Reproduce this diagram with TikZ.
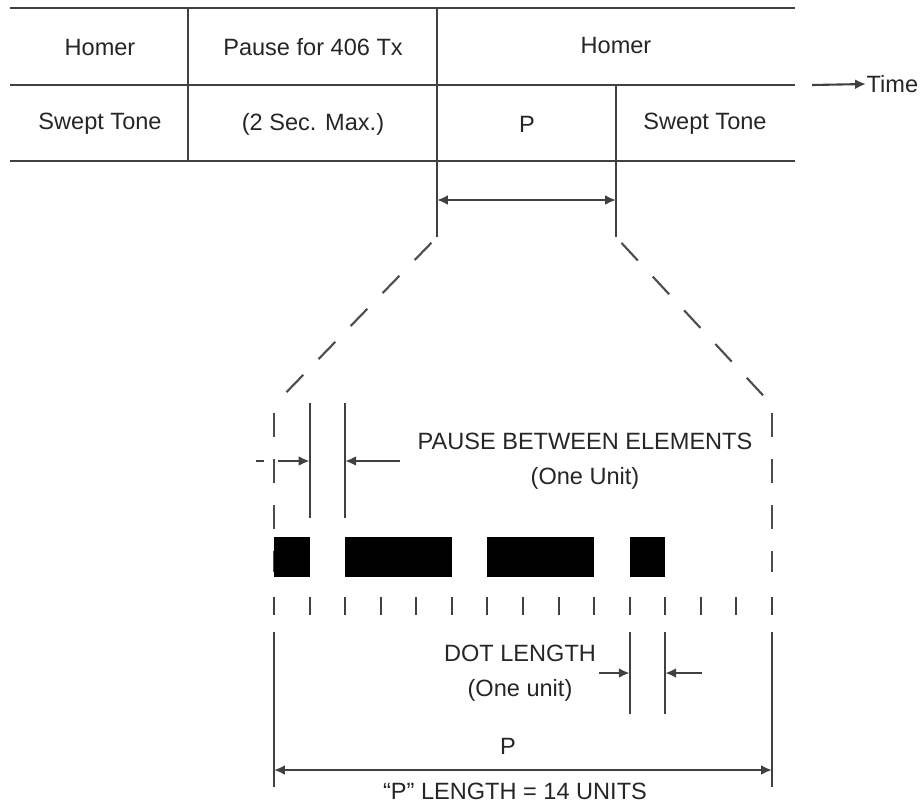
\documentclass[tikz,border=0pt]{standalone}
\usepackage{fontspec}
\setmainfont{Liberation Sans}
\usetikzlibrary{arrows.meta,calc}
\tikzset{
  lbl/.style={text=black!85,font=\fontsize{6.7}{9.8}\selectfont,inner sep=1pt},
  rule/.style={draw=black!75,line width=0.6pt},
  zoomline/.style={draw=black!70,line width=0.6pt,dash pattern=on 0.24cm off 0.22cm,dash phase=0.38cm},
  unitbar/.style={fill=black},
}
\begin{document}
\begin{tikzpicture}[x=0.01cm,y=-0.01cm,>={Latex[length=3.1pt,width=2.8pt]}]
  \useasboundingbox (0,0) rectangle (921,805);
  % table of the sequence
  \coordinate (tl) at (10,8);
  \coordinate (tr) at (795,8);
  \coordinate (ml) at (10,85);
  \coordinate (mr) at (795,85);
  \coordinate (bl) at (10,161);
  \coordinate (br) at (795,161);
  \draw[rule] (tl)--(tr) (ml)--(mr) (bl)--(br);
  \draw[rule] (188,8)--(188,161);
  \coordinate (pleft) at (437,237);
  \coordinate (pright) at (616,237);
  \draw[rule] (437,8)--(pleft);
  \draw[rule] (616,85)--(pright);
  \node[lbl] (homerA) at (100,47) {Homer};
  \node[lbl] (sweptA) at (100,124) {Swept Tone};
  \node[lbl] (pause) at (313,47) {Pause for 406 Tx};
  \node[lbl] (maxtwo) at (313,124) {(2 Sec. Max.)};
  \node[lbl] (homerB) at (616,45) {Homer};
  \node[lbl] (pcell) at (527,124) {P};
  \node[lbl] (sweptB) at (705,124) {Swept Tone};
  % time arrow
  \coordinate (tstart) at (812,85);
  \node[lbl,anchor=west,inner sep=0pt] (time) at (866,84) {Time};
  \draw[rule,->] (tstart)--(time.west);
  % span of P
  \draw[rule,<->] (437,200)--(616,200);
  % zoom lines
  \coordinate (zl) at (274,405);
  \coordinate (zr) at (772,405);
  \draw[zoomline] (pleft)--(zl);
  \draw[zoomline] (pright)--(zr);
  \draw[zoomline] (zl)--(274,572);
  \draw[zoomline] (zr)--(772,572);
  % code elements and unit ticks
  \def\u{35.5714}
  \foreach \a/\b in {0/1,2/5,6/9,10/11}
    \fill[unitbar] (274+\a*\u,537) rectangle (274+\b*\u,577);
  \foreach \i in {0,...,14}
    \draw[rule] (274+\i*\u,597)--(274+\i*\u,615);
  % pause between elements
  \draw[rule] (274+\u,403)--(274+\u,518);
  \draw[rule] (274+2*\u,403)--(274+2*\u,518);
  \draw[rule] (256,461)--(264,461);
  \draw[rule,->] (278,461)--(274+\u,461);
  \draw[rule,->] (400,461)--(274+2*\u,461);
  \node[lbl,align=center] (pbe) at (585,461) {PAUSE BETWEEN ELEMENTS\\(One Unit)};
  % dot length
  \draw[rule] (274+10*\u,632)--(274+10*\u,714);
  \draw[rule] (274+11*\u,632)--(274+11*\u,714);
  \draw[rule,->] (599,673)--(274+10*\u,673);
  \draw[rule,->] (702,673)--(274+11*\u,673);
  \node[lbl,align=center] (dot) at (520,673) {DOT LENGTH\\(One unit)};
  % length of P
  \coordinate (lenl) at (274,770);
  \coordinate (lenr) at (772,770);
  \draw[rule] (274,632)--(274,787);
  \draw[rule] (772,632)--(772,787);
  \draw[rule,<->] (lenl)--(lenr);
  \node[lbl] (plabel) at (508,746) {P};
  \node[lbl] (plength) at (515,791) {“P” LENGTH = 14 UNITS};
\end{tikzpicture}
\end{document}
